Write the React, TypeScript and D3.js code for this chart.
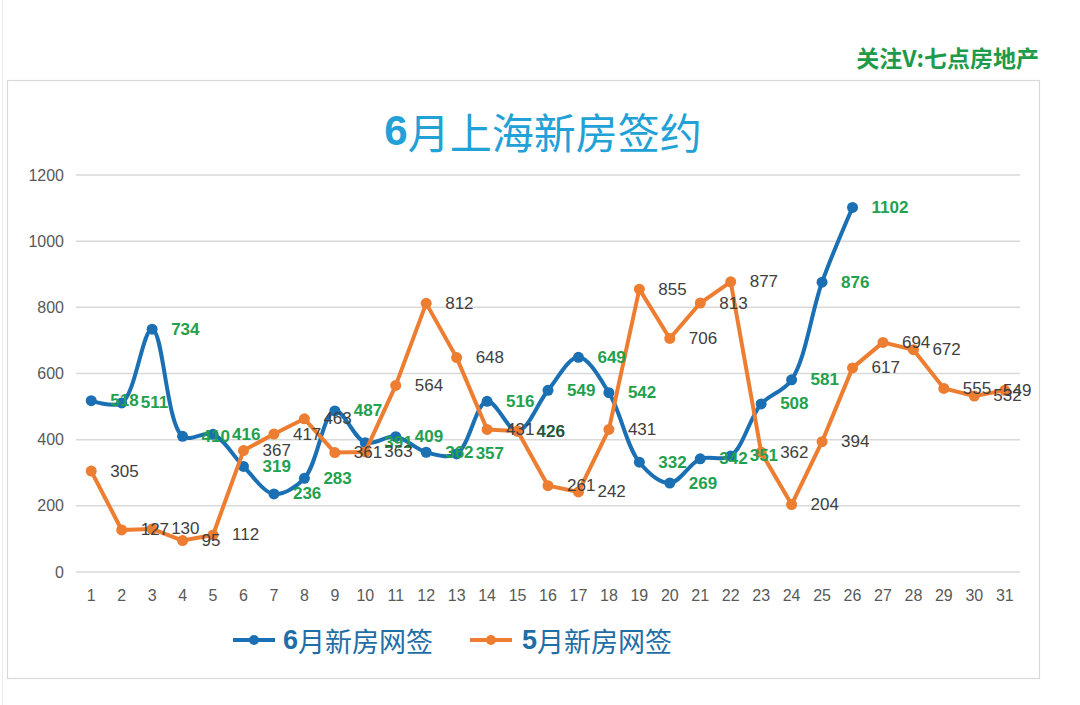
import React from 'react';
import * as d3 from 'd3';

// categories: days of the month
const days = ['1', '2', '3', '4', '5', '6', '7', '8', '9', '10', '11', '12', '13', '14', '15', '16',
  '17', '18', '19', '20', '21', '22', '23', '24', '25', '26', '27', '28', '29', '30', '31'];

// 6月新房网签 (only 26 days so far)
const juneValues = [518, 511, 734, 410, 416, 319, 236, 283, 487, 391, 409, 362, 357, 516, 426,
  549, 649, 542, 332, 269, 342, 351, 508, 581, 876, 1102];

// 5月新房网签
const mayValues = [305, 127, 130, 95, 112, 367, 417, 463, 361, 363, 564, 812, 648, 431, 426,
  261, 242, 431, 855, 706, 813, 877, 362, 204, 394, 617, 694, 672, 555, 532, 549];

const yTicks = [0, 200, 400, 600, 800, 1000, 1200];

const seriesNames = ['6月新房网签', '5月新房网签'];

const BLUE = '#1b6fb3';
const ORANGE = '#ed7d31';
const GREEN = '#1fa14e';
const LABEL_GRAY = '#404040';
const AXIS_GRAY = '#595959';
const CJK = '"Noto Sans CJK SC", "Liberation Sans", sans-serif';
const LATIN = '"Liberation Sans", Arial, sans-serif';

const App: React.FC = () => {
  const width = 1080;
  const height = 705;

  const x = d3.scaleBand<string>().domain(days).range([76, 1020]);
  const y = d3.scaleLinear().domain([0, 1200]).range([572, 175]);
  const cx = (i: number) => (x(days[i]) as number) + x.bandwidth() / 2;

  // excel-like smoothed line, centripetal catmull-rom keeps overshoot small
  const smooth = d3.line<number>()
    .x((_, i) => cx(i))
    .y(d => y(d))
    .curve(d3.curveCatmullRom.alpha(0.5));

  const straight = d3.line<number>()
    .x((_, i) => cx(i))
    .y(d => y(d));

  const labelX = (i: number) => Math.min(cx(i) + 19, 1003);

  const legend = [
    { c: BLUE, x0: 233, x1: 275, tx: 283 },
    { c: ORANGE, x0: 470, x1: 512, tx: 522 },
  ];

  return (
    <svg width={width} height={height} style={{ position: 'absolute', left: 0, top: 0, background: '#fff' }}>
      <rect x={0} y={0} width={width} height={height} fill="#fff" />
      <line x1={2.5} x2={2.5} y1={0} y2={height} stroke="#ececec" strokeWidth={1} />

      {/* watermark */}
      <text x={1039} y={57} textAnchor="end" dominantBaseline="central"
        fontFamily={CJK} fontWeight={700} fontSize={23} fill="#1e9a4b">关注V:七点房地产</text>

      {/* chart frame */}
      <rect x={7.5} y={80.5} width={1032} height={598} fill="#fff" stroke="#d9d9d9" strokeWidth={1.2} />

      {/* title */}
      <text x={543} y={130} textAnchor="middle" dominantBaseline="central"
        fontFamily={CJK} fontSize={42} fill="#22a1d6">
        <tspan fontFamily={LATIN} fontWeight={700}>6</tspan>
        <tspan fontWeight={400}>月上海新房签约</tspan>
      </text>

      {/* gridlines + y axis */}
      {yTicks.map(t => (
        <g key={t}>
          <line x1={76} x2={1020} y1={y(t)} y2={y(t)} stroke="#d9d9d9" strokeWidth={1.5} />
          <text x={64} y={y(t)} textAnchor="end" dominantBaseline="central"
            fontFamily={LATIN} fontSize={16} fill={AXIS_GRAY}>{t}</text>
        </g>
      ))}

      {/* x axis labels */}
      {days.map((d, i) => (
        <text key={d} x={cx(i)} y={595} textAnchor="middle" dominantBaseline="central"
          fontFamily={LATIN} fontSize={16} fill={AXIS_GRAY}>{d}</text>
      ))}

      {/* 6月 series */}
      <path d={smooth(juneValues) || ''} fill="none" stroke={BLUE} strokeWidth={4} strokeLinejoin="round" />
      {juneValues.map((v, i) => (
        <circle key={'j' + i} cx={cx(i)} cy={y(v)} r={5.5} fill={BLUE} />
      ))}

      {/* 5月 series */}
      <path d={straight(mayValues) || ''} fill="none" stroke={ORANGE} strokeWidth={4} strokeLinejoin="round" />
      {mayValues.map((v, i) => (
        <circle key={'m' + i} cx={cx(i)} cy={y(v)} r={5.5} fill={ORANGE} />
      ))}

      {/* data labels */}
      {juneValues.map((v, i) => (
        <text key={'jl' + i} x={labelX(i)} y={y(v)} dominantBaseline="central"
          fontFamily={LATIN} fontWeight={700} fontSize={17} fill={GREEN}>{v}</text>
      ))}
      {mayValues.map((v, i) => (
        <text key={'ml' + i} x={labelX(i)} y={y(v)} dominantBaseline="central"
          fontFamily={LATIN} fontSize={17} fill={LABEL_GRAY}>{v}</text>
      ))}

      {/* legend */}
      {legend.map((l, k) => (
        <g key={k}>
          <line x1={l.x0} x2={l.x1} y1={640} y2={640} stroke={l.c} strokeWidth={4} />
          <circle cx={(l.x0 + l.x1) / 2} cy={640} r={5} fill={l.c} />
          <text x={l.tx} y={640} dominantBaseline="central" fontFamily={CJK} fontSize={27} fill="#1f6ea6">
            <tspan fontFamily={LATIN} fontWeight={700}>{seriesNames[k].slice(0, 1)}</tspan>
            <tspan fontWeight={400}>{seriesNames[k].slice(1)}</tspan>
          </text>
        </g>
      ))}
    </svg>
  );
};

export default App;
